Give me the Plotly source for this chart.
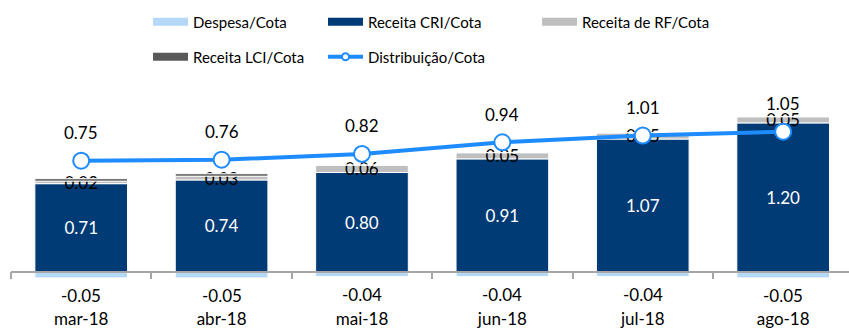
import plotly.graph_objects as go

# Monthly per-unit results (R$/cota)
months = ["mar-18", "abr-18", "mai-18", "jun-18", "jul-18", "ago-18"]
despesa = [-0.05, -0.05, -0.04, -0.04, -0.04, -0.05]
receita_cri = [0.71, 0.74, 0.80, 0.91, 1.07, 1.20]
receita_rf = [0.02, 0.03, 0.06, 0.05, 0.05, 0.05]
receita_lci = [0.02, 0.02, 0.00, 0.00, 0.00, 0.00]
distribuicao = [0.75, 0.76, 0.82, 0.94, 1.01, 1.05]

C_DESP = "#B4D8F6"
C_CRI = "#003B75"
C_RF = "#BFBFBF"
C_LCI = "#595959"
C_DIST = "#1E8CFF"
AXIS_GREY = "#A6A6A6"
FONT = "Lato"
LABEL_SIZE = 17

BAR_W = 0.66
X_RANGE = [-0.5, 5.469]

fig = go.Figure()

# stacked revenue bars
fig.add_trace(go.Bar(
    x=months, y=receita_cri, width=BAR_W, name="Receita CRI/Cota",
    marker=dict(color=C_CRI, line=dict(color="white", width=1)),
    text=[f"{v:.2f}" for v in receita_cri], textposition="inside",
    insidetextanchor="middle", constraintext="none",
    textfont=dict(color="white", size=LABEL_SIZE, family=FONT),
    showlegend=False, hoverinfo="skip",
))
fig.add_trace(go.Bar(
    x=months, y=receita_rf, width=BAR_W, name="Receita de RF/Cota",
    marker=dict(color=C_RF, line=dict(color="white", width=1)),
    text=[f"{v:.2f}" for v in receita_rf], textposition="inside",
    insidetextanchor="middle", constraintext="none",
    textfont=dict(color="black", size=LABEL_SIZE, family=FONT),
    showlegend=False, hoverinfo="skip",
))
fig.add_trace(go.Bar(
    x=months, y=receita_lci, width=BAR_W, name="Receita LCI/Cota",
    marker=dict(color=C_LCI, line=dict(color="white", width=1)),
    showlegend=False, hoverinfo="skip",
))

# expenses hang below the baseline axis (x2 carries the axis line and ticks)
fig.add_trace(go.Bar(
    x=months, y=despesa, width=BAR_W, name="Despesa/Cota",
    xaxis="x2", yaxis="y",
    marker=dict(color=C_DESP, line=dict(color="white", width=1)),
    showlegend=False, hoverinfo="skip",
))

# distribution line on its own scale
fig.add_trace(go.Scatter(
    x=months, y=distribuicao, yaxis="y2", mode="lines+markers",
    name="Distribuição/Cota",
    line=dict(color=C_DIST, width=4),
    marker=dict(size=16, color="white", line=dict(color=C_DIST, width=2)),
    showlegend=False, hoverinfo="skip",
))

# legend entries drawn as wide swatches (name, colour, legend, entry width)
legend_items = [
    ("Despesa/Cota", C_DESP, "legend", 125),
    ("Receita CRI/Cota", C_CRI, "legend", 164),
    ("Receita de RF/Cota", C_RF, "legend", 150),
    ("Receita LCI/Cota", C_LCI, "legend2", 125),
]
for name, color, lg, ew in legend_items:
    fig.add_trace(go.Scatter(
        x=[None], y=[None], mode="lines", name=name, legend=lg,
        legendwidth=ew, line=dict(color=color, width=8), hoverinfo="skip",
    ))
fig.add_trace(go.Scatter(
    x=[None], y=[None], mode="lines+markers", name="Distribuição/Cota",
    legend="legend2", legendwidth=150, line=dict(color=C_DIST, width=4),
    marker=dict(size=7, color="white", line=dict(color=C_DIST, width=2)),
    hoverinfo="skip",
))

annotations = []
for m, v in zip(months, distribuicao):
    annotations.append(dict(
        x=m, y=v, xref="x", yref="y2", text=f"{v:.2f}", showarrow=False,
        yanchor="middle", yshift=28,
        font=dict(size=LABEL_SIZE, color="black", family=FONT),
    ))
for m, v in zip(months, despesa):
    annotations.append(dict(
        x=m, y=v, xref="x", yref="y", text=f"{v:.2f}", showarrow=False,
        yanchor="middle", yshift=-18,
        font=dict(size=LABEL_SIZE, color="black", family=FONT),
    ))

legend_common = dict(
    orientation="h", xanchor="left", yanchor="middle",
    itemwidth=35,
    font=dict(size=15, color="black", family=FONT),
    bgcolor="rgba(0,0,0,0)", traceorder="normal",
)

fig.update_layout(
    width=849, height=328,
    margin=dict(l=11, r=0, t=70, b=22, autoexpand=False),
    paper_bgcolor="white", plot_bgcolor="white",
    barmode="relative",
    font=dict(family=FONT, color="black", size=LABEL_SIZE),
    annotations=annotations,
    legend=dict(x=0.1635, y=1.2034, **legend_common),
    legend2=dict(x=0.1635, y=1.055, **legend_common),
    xaxis=dict(
        type="category", categoryorder="array", categoryarray=months,
        range=X_RANGE, showline=False, ticks="", showgrid=False,
        ticklabelstandoff=1, automargin=False,
        tickfont=dict(size=LABEL_SIZE, color="black", family=FONT),
    ),
    xaxis2=dict(
        type="category", categoryorder="array", categoryarray=months,
        range=X_RANGE, overlaying="x", anchor="free", position=0.1453,
        showline=True, linecolor=AXIS_GREY, linewidth=1.5,
        ticks="outside", tickson="boundaries", ticklen=7, tickwidth=1.5,
        tickcolor=AXIS_GREY, showticklabels=False, showgrid=False,
        automargin=False,
    ),
    yaxis=dict(range=[-0.2766, 1.6266], visible=False, showgrid=False, zeroline=False),
    yaxis2=dict(range=[-0.753, 1.688], overlaying="y", visible=False,
                showgrid=False, zeroline=False),
)

fig.write_html("out.html")
